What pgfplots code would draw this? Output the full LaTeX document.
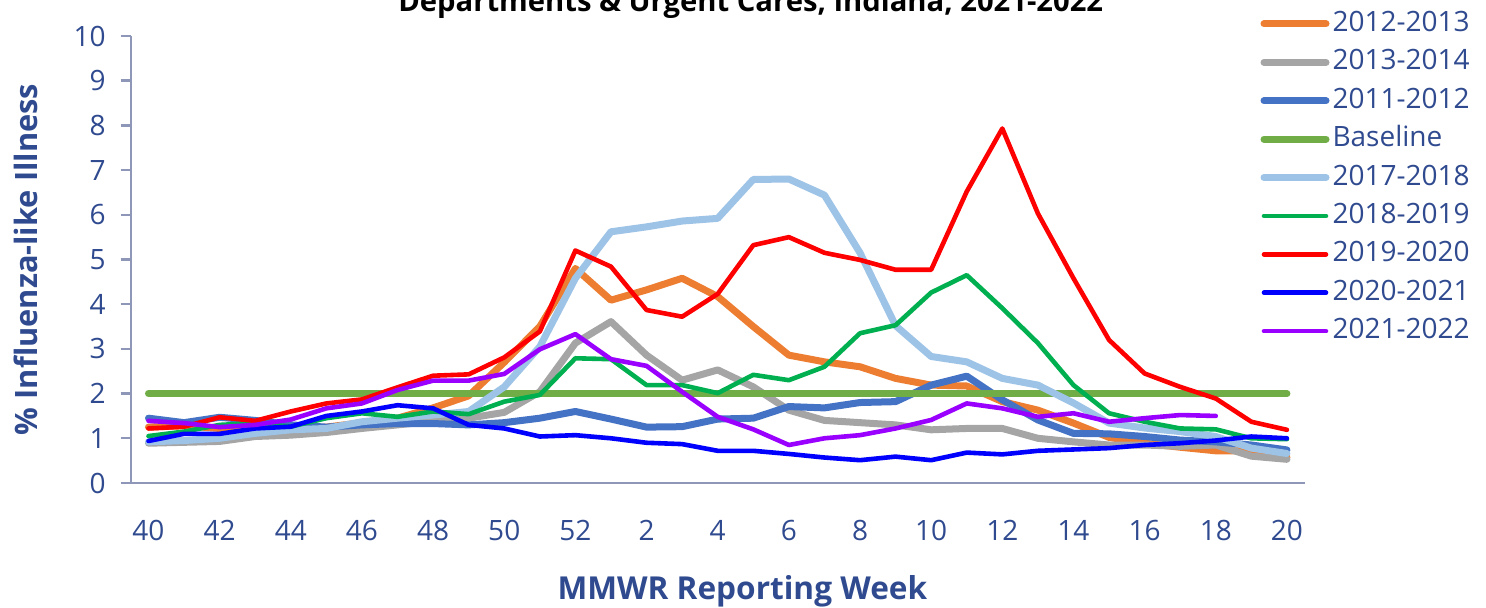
\documentclass[border=0pt]{standalone}
\usepackage{fontspec}
\setmainfont{Open Sans}
\usepackage{pgfplots}
\usepackage{pgfplotstable}
\pgfplotsset{compat=1.18}
\definecolor{cA}{HTML}{ED7D31}
\definecolor{cB}{HTML}{A5A5A5}
\definecolor{cC}{HTML}{4472C4}
\definecolor{cBase}{HTML}{70AD47}
\definecolor{cD}{HTML}{9DC3E6}
\definecolor{cE}{HTML}{00B050}
\definecolor{cF}{HTML}{FF0000}
\definecolor{cG}{HTML}{0000FF}
\definecolor{cH}{HTML}{9900FF}
\definecolor{txt}{HTML}{2F4A8F}
\definecolor{axc}{HTML}{8F97B8}

\pgfplotstableread{
i a b c base d e f g h
0 1.25 0.89 1.45 2 0.92 1.05 1.22 0.94 1.39
1 1.28 0.91 1.35 2 0.95 1.15 1.26 1.10 1.34
2 1.22 0.93 1.47 2 1.00 1.30 1.47 1.10 1.25
3 1.20 1.04 1.40 2 1.11 1.34 1.39 1.22 1.30
4 1.20 1.07 1.30 2 1.19 1.26 1.60 1.26 1.42
5 1.25 1.13 1.25 2 1.22 1.45 1.78 1.50 1.67
6 1.35 1.22 1.30 2 1.37 1.56 1.87 1.60 1.78
7 1.45 1.30 1.33 2 1.45 1.48 2.14 1.74 2.08
8 1.68 1.38 1.33 2 1.52 1.60 2.40 1.67 2.29
9 1.95 1.45 1.30 2 1.60 1.54 2.43 1.30 2.29
10 2.70 1.58 1.35 2 2.15 1.82 2.81 1.22 2.44
11 3.50 2.04 1.45 2 3.05 1.97 3.39 1.04 2.99
12 4.80 3.13 1.60 2 4.58 2.79 5.20 1.07 3.33
13 4.09 3.61 1.43 2 5.62 2.77 4.84 1.00 2.77
14 4.32 2.86 1.25 2 5.73 2.19 3.87 0.90 2.62
15 4.58 2.30 1.26 2 5.86 2.19 3.72 0.87 2.04
16 4.17 2.53 1.43 2 5.92 2.01 4.23 0.72 1.48
17 3.50 2.15 1.45 2 6.79 2.42 5.32 0.72 1.20
18 2.86 1.63 1.71 2 6.80 2.30 5.50 0.65 0.85
19 2.71 1.40 1.68 2 6.44 2.60 5.15 0.57 1.00
20 2.60 1.35 1.80 2 5.15 3.35 4.99 0.51 1.07
21 2.34 1.30 1.82 2 3.52 3.53 4.77 0.59 1.22
22 2.19 1.19 2.19 2 2.83 4.26 4.77 0.51 1.41
23 2.17 1.22 2.39 2 2.71 4.65 6.52 0.68 1.78
24 1.82 1.22 1.86 2 2.34 3.91 7.93 0.64 1.67
25 1.63 1.00 1.41 2 2.19 3.13 6.03 0.72 1.48
26 1.34 0.92 1.11 2 1.79 2.19 4.58 0.75 1.56
27 1.02 0.85 1.10 2 1.34 1.56 3.20 0.78 1.37
28 0.89 0.85 1.04 2 1.23 1.37 2.45 0.85 1.45
29 0.80 0.82 0.96 2 1.15 1.22 2.15 0.89 1.52
30 0.72 0.85 0.92 2 1.04 1.20 1.89 0.95 1.50
31 0.72 0.60 0.85 2 0.78 1.00 1.37 1.04 nan
32 0.58 0.53 0.74 2 0.66 0.98 1.19 1.00 nan
}\data

\begin{document}
\begin{tikzpicture}
\begin{axis}[
  at={(0,0)}, anchor=south west,
  scale only axis, width=587pt, height=223.5pt,
  xmin=-0.5, xmax=32.5, ymin=0, ymax=10,
  axis lines=left,
  axis line style={-, draw=axc, line width=1.2pt},
  xtick={0,2,...,32},
  xticklabels={40,42,44,46,48,50,52,2,4,6,8,10,12,14,16,18,20},
  ytick={0,1,...,10},
  x tick style={draw=none},
  y tick style={draw=axc, line width=1.2pt},
  tick align=outside, major tick length=5pt,
  /pgf/number format/assume math mode=true,
  tick label style={font=\fontsize{14}{16}\selectfont, text=txt},
  xticklabel style={yshift=-10pt},
  yticklabel style={xshift=-4pt},
  xlabel={MMWR Reporting Week},
  ylabel={\% Influenza-like Illness},
  xlabel style={font=\fontsize{15.8}{18}\selectfont\bfseries, text=txt, at={(axis description cs:0.521,-0.243)}, anchor=center},
  ylabel style={font=\fontsize{15.4}{18}\selectfont\bfseries, text=txt, at={(axis description cs:-0.0895,0.5)}, anchor=center},
  legend cell align=left,
  legend style={draw=none, fill=none, at={(axis description cs:0.962,1.058)}, anchor=north west,
    font=\fontsize{14}{16}\selectfont, text=txt, row sep=5.7pt, inner sep=0pt,
    nodes={inner ysep=0pt, inner xsep=1.5pt, text height=10.5pt, text depth=3pt}},
  legend image code/.code={\draw[#1, line cap=round] (0pt,0pt) -- (31pt,0pt);},
  every axis plot/.append style={line join=round, line cap=round, no markers},
  clip=false,
]
\addplot[cA, line width=3.5pt] table[x=i, y=a] {\data};
\addlegendentry{2012-2013}
\addplot[cB, line width=3.5pt] table[x=i, y=b] {\data};
\addlegendentry{2013-2014}
\addplot[cC, line width=3.5pt] table[x=i, y=c] {\data};
\addlegendentry{2011-2012}
\addplot[cBase, line width=3.5pt] table[x=i, y=base] {\data};
\addlegendentry{Baseline}
\addplot[cD, line width=3.5pt] table[x=i, y=d] {\data};
\addlegendentry{2017-2018}
\addplot[cE, line width=2.3pt] table[x=i, y=e] {\data};
\addlegendentry{2018-2019}
\addplot[cF, line width=2.3pt] table[x=i, y=f] {\data};
\addlegendentry{2019-2020}
\addplot[cG, line width=2.3pt] table[x=i, y=g] {\data};
\addlegendentry{2020-2021}
\addplot[cH, line width=2.3pt] table[x=i, y=h] {\data};
\addlegendentry{2021-2022}
\end{axis}
\node[font=\fontsize{14.6}{16}\selectfont\bfseries, anchor=base] at (310pt,235.5pt) {Departments \& Urgent Cares, Indiana, 2021-2022};
\pgfresetboundingbox
\useasboundingbox (-65.35pt,-62.5pt) rectangle (677.65pt,241.5pt);
\end{tikzpicture}
\end{document}
